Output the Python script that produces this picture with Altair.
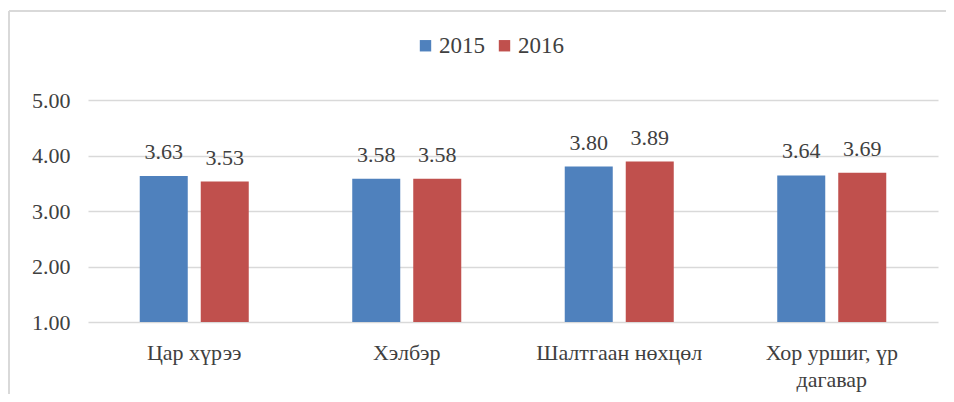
import altair as alt
import pandas as pd

categories = ["Цар хүрээ", "Хэлбэр", "Шалтгаан нөхцөл", "Хор уршиг, үр дагавар"]
years = ["2015", "2016"]
v2015 = [3.63, 3.58, 3.80, 3.64]
v2016 = [3.53, 3.58, 3.89, 3.69]
colors = ["#4F81BD", "#C0504D"]

rows = []
for c, a, b in zip(categories, v2015, v2016):
    rows.append({"cat": c, "year": "2015", "val": a})
    rows.append({"cat": c, "year": "2016", "val": b})
df = pd.DataFrame(rows)

FONT = "Liberation Serif"
W, H = 850, 222

x = alt.X("cat:N", sort=categories, title=None,
          scale=alt.Scale(paddingInner=0.487, paddingOuter=0.2435),
          axis=alt.Axis(labelAngle=0, domain=False, ticks=False, labelFontSize=22,
                        labelFont=FONT, labelColor="#404040", labelPadding=20,
                        labelLineHeight=27, labelBaseline="top",
                        labelExpr="datum.label == 'Хор уршиг, үр дагавар' ? ['Хор уршиг, үр', 'дагавар'] : datum.label"))
xo = alt.XOffset("year:N", sort=years, scale=alt.Scale(paddingInner=0.213, paddingOuter=0))

base = alt.Chart(df)

bars = base.mark_bar().encode(
    x=x, xOffset=xo,
    y=alt.Y("val:Q", title=None,
            scale=alt.Scale(domain=[1, 5], zero=False, nice=False),
            axis=alt.Axis(values=[1, 2, 3, 4, 5], format=".2f", domain=False, ticks=False,
                          labelFontSize=22, labelFont=FONT, labelColor="#404040",
                          labelPadding=18, gridColor="#D9D9D9", gridWidth=1.3)),
    y2=alt.datum(1),
    color=alt.Color("year:N", sort=years, scale=alt.Scale(domain=years, range=colors),
                    legend=alt.Legend(title=None, orient="none", legendX=326, legendY=-66,
                                      direction="horizontal", symbolType="square",
                                      symbolSize=130, symbolStrokeWidth=0,
                                      labelFontSize=23, labelFont=FONT, labelColor="#404040",
                                      labelOffset=2, columnPadding=8)),
)

labels = base.mark_text(baseline="bottom", dy=-12, fontSize=22, font=FONT, color="#404040").encode(
    x=x, xOffset=xo,
    y=alt.Y("val:Q"),
    text=alt.Text("val:Q", format=".2f"),
)

border_v = alt.Chart(df).mark_rule(color="#D9D9D9", strokeWidth=2).encode(
    x=alt.value(-79), y=alt.value(-89), y2=alt.value(400))
border_h = alt.Chart(df).mark_rule(color="#D9D9D9", strokeWidth=1.5).encode(
    x=alt.value(-79), x2=alt.value(858), y=alt.value(-89))

chart = alt.layer(border_v, border_h, bars, labels).properties(
    width=W, height=H,
    autosize=alt.AutoSizeParams(type="none"),
    padding={"left": 80, "top": 92, "right": 8, "bottom": 72},
).configure_view(stroke=None)

chart.save("out.html", embed_options={"renderer": "svg", "actions": False})
